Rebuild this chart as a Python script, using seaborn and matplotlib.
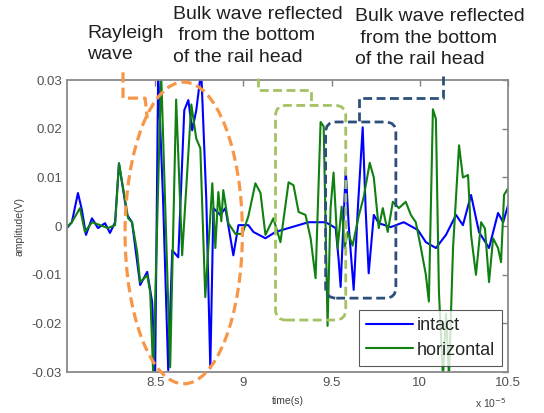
import numpy as np
import pandas as pd
import matplotlib
matplotlib.use('Agg')
import matplotlib.pyplot as plt
import seaborn as sns
from matplotlib.patches import Ellipse, FancyBboxPatch

# time in units of 1e-5 s
t_intact = [8.000, 8.028, 8.0625, 8.085, 8.108, 8.142, 8.176, 8.216, 8.244, 8.273,
            8.295, 8.341, 8.369, 8.415, 8.455, 8.483, 8.500, 8.517, 8.545, 8.574,
            8.597, 8.631, 8.665, 8.688, 8.710, 8.733, 8.761, 8.790, 8.8125, 8.830,
            8.869, 8.898, 8.943, 8.972, 9.028, 9.057, 9.125, 9.182, 9.256, 9.369,
            9.466, 9.523, 9.540, 9.551, 9.580, 9.597, 9.625, 9.648, 9.676, 9.693,
            9.710, 9.739, 9.767, 9.835, 9.909, 9.989, 10.034, 10.091, 10.148, 10.205,
            10.244, 10.290, 10.335, 10.392, 10.443, 10.472, 10.500]
amp_intact = [-0.0004, 0.0008, 0.0068, 0.0033, -0.0018, 0.0016, -0.0004, 0.0006, -0.0014, 0.0008,
              0.0129, 0.0023, 0.0008, -0.0121, -0.0094, -0.0156, -0.0305, 0.0315, 0.0053, -0.0296,
              -0.0050, -0.0064, 0.0238, 0.0259, 0.0197, 0.0238, 0.0320, 0.0053, -0.0292, 0.0037,
              0.0023, 0.0037, -0.0060, 0.0002, 0.0002, -0.0012, -0.0025, -0.0012, -0.0004, 0.0008,
              0.0008, -0.0004, -0.0070, -0.0125, 0.0115, 0.0000, -0.0131, 0.0033, 0.0203, 0.0033,
              -0.0097, 0.0023, 0.0006, -0.0002, 0.0008, -0.0008, -0.0033, -0.0045, -0.0018, 0.0023,
              0.0002, 0.0064, -0.0012, -0.0045, 0.0027, 0.0008, 0.0043]

t_horiz = [8.000, 8.028, 8.074, 8.102, 8.142, 8.1875, 8.233, 8.273, 8.295, 8.347,
           8.369, 8.398, 8.415, 8.455, 8.472, 8.489, 8.534, 8.585, 8.619, 8.653,
           8.705, 8.733, 8.756, 8.784, 8.824, 8.841, 8.858, 8.875, 8.886, 8.915,
           8.955, 8.994, 9.028, 9.068, 9.097, 9.125, 9.170, 9.210, 9.256, 9.284,
           9.313, 9.352, 9.381, 9.409, 9.4375, 9.455, 9.477, 9.494, 9.511, 9.534,
           9.557, 9.574, 9.591, 9.619, 9.653, 9.682, 9.716, 9.739, 9.767, 9.790,
           9.818, 9.847, 9.881, 9.920, 9.949, 9.977, 10.006, 10.034, 10.051, 10.074,
           10.091, 10.108, 10.131, 10.148, 10.165, 10.188, 10.222, 10.244, 10.273, 10.290,
           10.318, 10.347, 10.369, 10.392, 10.415, 10.443, 10.460, 10.477, 10.500]
amp_horiz = [-0.0002, 0.0008, 0.0037, -0.0012, 0.0008, 0.0002, -0.0004, 0.0002, 0.0129, 0.0016,
             0.0008, -0.0053, -0.0115, -0.0101, -0.0136, -0.0305, 0.0315, -0.0290, 0.0260, -0.0060,
             0.0250, 0.0180, 0.0160, -0.0146, 0.0088, -0.0045, 0.0070, 0.0010, 0.0074, 0.0006,
             -0.0016, -0.0016, 0.0020, 0.0088, 0.0068, -0.0018, 0.0016, -0.0033, 0.0090, 0.0084,
             0.0029, 0.0023, -0.0025, -0.0107, 0.0214, 0.0205, -0.0205, 0.0037, 0.0110, -0.0045,
             0.0040, -0.0045, -0.0012, -0.0040, 0.0020, 0.0060, 0.0130, 0.0100, -0.0004, 0.0037,
             -0.0012, 0.0050, 0.0037, 0.0050, 0.0023, 0.0008, -0.0045, -0.0100, -0.0155, 0.0240,
             0.0220, -0.0135, -0.0310, -0.0180, -0.0310, -0.0045, 0.0166, 0.0100, 0.0105, -0.0018,
             -0.0100, 0.0008, -0.0005, -0.0115, -0.0025, -0.0045, -0.0074, 0.0064, 0.0078]

x_ticks = [8.5, 9, 9.5, 10, 10.5]
y_ticks = [-0.03, -0.02, -0.01, 0, 0.01, 0.02, 0.03]

df = pd.concat([
    pd.DataFrame({'time': t_intact, 'amp': amp_intact, 'case': 'intact'}),
    pd.DataFrame({'time': t_horiz, 'amp': amp_horiz, 'case': 'horizontal'}),
])

sns.set_style('white')
plt.rcParams['font.family'] = ['Liberation Sans', 'DejaVu Sans']

fig = plt.figure(figsize=(5.44, 4.13), dpi=100)
ax = fig.add_axes([0.123, 0.099, 0.811, 0.707])

sns.lineplot(data=df, x='time', y='amp', hue='case', estimator=None, sort=False,
             palette={'intact': '#0000ff', 'horizontal': '#108010'}, linewidth=1.5, ax=ax)

ax.set_xlim(8.0, 10.5)
ax.set_ylim(-0.03, 0.03)
ax.set_xticks(x_ticks)
ax.set_xticklabels(['%g' % v for v in x_ticks])
ax.set_yticks(y_ticks)
ax.set_yticklabels(['%g' % v for v in y_ticks])
ax.tick_params(direction='in', top=True, right=True, length=4, width=1,
               color='#808080', labelcolor='#505050', labelsize=9.5)
for s in ax.spines.values():
    s.set_color('#8a8a8a')
    s.set_linewidth(1.3)
ax.set_xlabel('time(s)', fontsize=7.5, color='#404040', labelpad=5)
ax.set_ylabel('amplitude(V)', fontsize=7.5, color='#404040', labelpad=5)
ax.text(0.925, -0.105, r'x 10$^{-5}$', transform=ax.transAxes, fontsize=7.5,
        color='#404040', va='center', ha='left')

leg = ax.legend(loc='lower right', fontsize=13, frameon=True, fancybox=False,
                handlelength=2.6, borderaxespad=0.35, borderpad=0.4, labelspacing=0.4,
                handletextpad=0.2)
leg.get_frame().set_edgecolor('#303030')
leg.get_frame().set_linewidth(0.8)

# annotations
orange = '#f79646'
olive = '#a4c263'
navy = '#2c4f7c'
dash = (0, (3.2, 1.6))

ax.add_patch(Ellipse((8.662, -0.0014), 0.665, 0.062, fill=False, edgecolor=orange,
                     linewidth=2.3, linestyle=dash, clip_on=False, zorder=5))
ax.plot([8.318, 8.318, 8.443, 8.455], [0.0316, 0.0263, 0.0263, 0.0222], color=orange,
        lw=2.3, ls=dash, clip_on=False, zorder=5)

ax.add_patch(FancyBboxPatch((9.182, -0.0193), 0.398, 0.0441,
                            boxstyle='round,pad=0,rounding_size=0.06', mutation_aspect=0.036,
                            fill=False, edgecolor=olive, linewidth=2.0, linestyle=dash,
                            clip_on=False, zorder=5))
ax.plot([9.085, 9.085, 9.381, 9.381], [0.0304, 0.0279, 0.0279, 0.0248], color=olive,
        lw=2.0, ls=dash, clip_on=False, zorder=5)

ax.add_patch(FancyBboxPatch((9.466, -0.0148), 0.398, 0.0362,
                            boxstyle='round,pad=0,rounding_size=0.06', mutation_aspect=0.036,
                            fill=False, edgecolor=navy, linewidth=2.0, linestyle=dash,
                            clip_on=False, zorder=5))
ax.plot([10.131, 10.131, 9.653, 9.653], [0.0308, 0.0263, 0.0263, 0.0214], color=navy,
        lw=2.0, ls=dash, clip_on=False, zorder=5)

fig.text(0.160, 0.940, 'Rayleigh\nwave', fontsize=14, va='top', ha='left',
         linespacing=1.33, color='#202020')
fig.text(0.318, 0.985, 'Bulk wave reflected\n from the bottom\nof the rail head',
         fontsize=14, va='top', ha='left', linespacing=1.33, color='#202020')
fig.text(0.653, 0.980, 'Bulk wave reflected\n from the bottom\nof the rail head',
         fontsize=14, va='top', ha='left', linespacing=1.33, color='#202020')

fig.savefig('out.png', dpi=100)
